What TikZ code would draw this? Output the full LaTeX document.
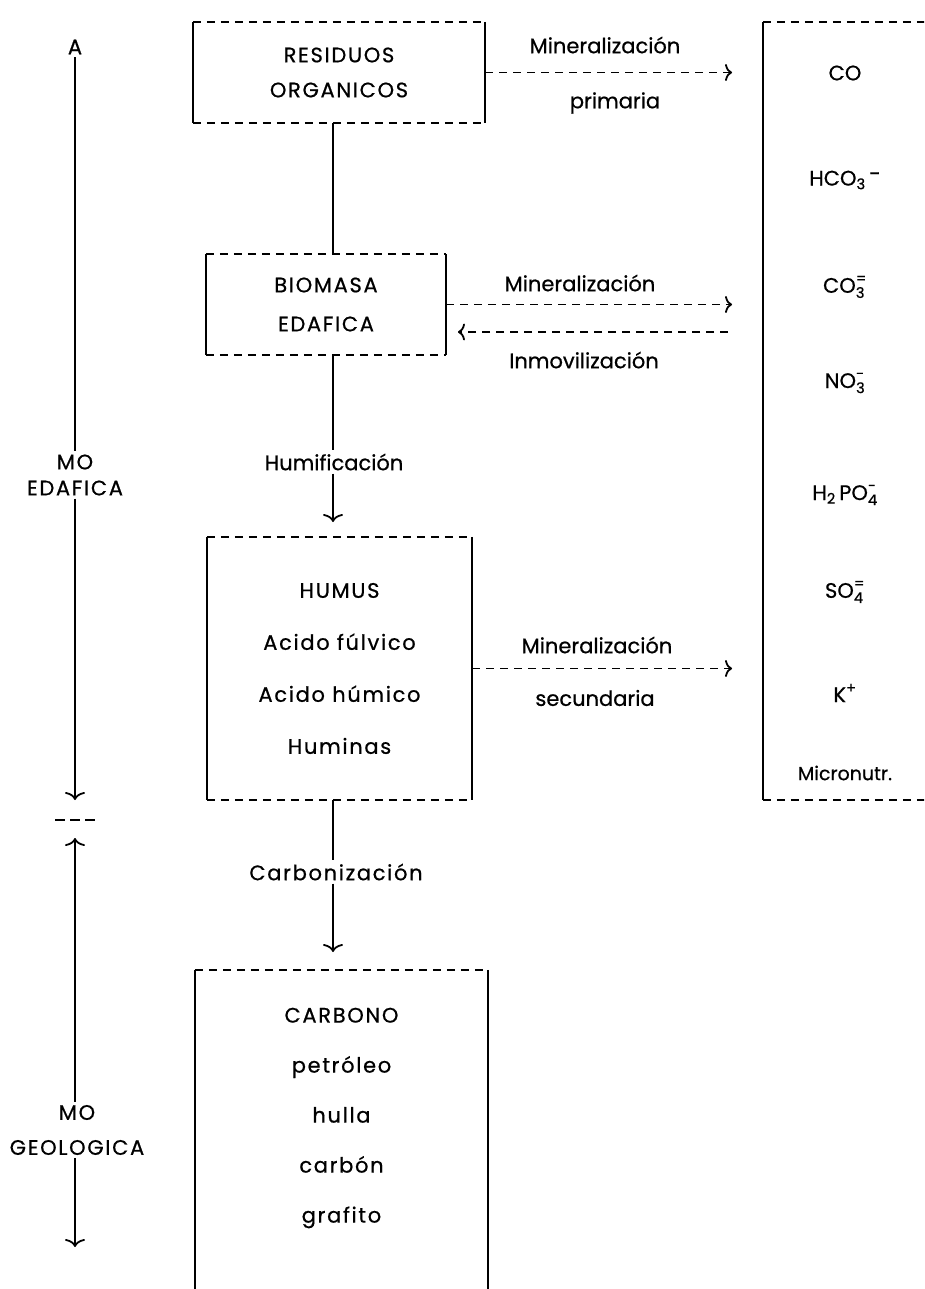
\documentclass[tikz,border=0pt]{standalone}
\usepackage{amsmath}
\usepackage{fontspec}
\setmainfont{Poppins}[FakeBold=0.6]
\newfontfamily\espaciada{Poppins}[FakeBold=0.6,LetterSpace=8]
\usetikzlibrary{arrows.meta,positioning,calc}

% bordes: lados verticales continuos, arriba y abajo discontinuos
\newcommand{\bordes}[1]{%
  \draw[trazo] (#1.north west) -- (#1.north east);
  \draw[trazo] (#1.south west) -- (#1.south east);
  \draw[linea] (#1.north west) -- (#1.south west);
  \draw[linea] (#1.north east) -- (#1.south east);}

\begin{document}
\begin{tikzpicture}[x=1pt,y=-1pt,
  every node/.style={font=\fontsize{21}{24}\selectfont,inner sep=3pt},
  ancha/.style={font=\espaciada\fontsize{21}{#1}\selectfont},
  caja/.style={inner sep=0pt,align=center},
  linea/.style={line width=1.8pt},
  trazo/.style={line width=1.8pt,dash pattern=on 8pt off 6pt},
  flecha/.style={line width=1.8pt,-{Computer Modern Rightarrow[length=8pt,width=20pt]}},
  flechad/.style={trazo,-{Computer Modern Rightarrow[length=7pt,width=17pt]}}]
  \useasboundingbox (0,0) rectangle (924,1289);
  \clip (0,0) rectangle (924,1289);

  % cajas
  \node[caja,ancha=35,minimum width=292pt,minimum height=101pt] (residuos) at (339,72.5) {RESIDUOS\\ORGANICOS};
  \node[caja,ancha=39,minimum width=240pt,minimum height=101pt] (biomasa) at (326,304.5) {BIOMASA\\EDAFICA};
  \node[caja,ancha=52,minimum width=265pt,minimum height=263pt] (humus) at (339.5,668.5) {HUMUS\\Acido fúlvico\\Acido húmico\\Huminas};
  \node[caja,ancha=50,minimum width=293pt,minimum height=296pt] (carbono) at (341.5,1118) {CARBONO\\petróleo\\hulla\\carbón\\grafito};
  \node[caja,minimum width=165pt,minimum height=778pt] (iones) at (845.5,411) {};
  \bordes{residuos}
  \bordes{biomasa}
  \bordes{humus}
  \bordes{iones}
  \draw[trazo] (carbono.north west) -- (carbono.north east);
  \draw[linea] (carbono.north west) -- ++(0,340);
  \draw[linea] (carbono.north east) -- ++(0,340);

  % iones
  \node (co) at (845,73) {CO};
  \node (hco) at (845,180) {$\text{HCO}_{\text{3}}$\,\raisebox{0.4ex}{-}};
  \node (cot) at (845,287) {$\text{CO}_{\text{3}}^{\text{=}}$};
  \node (not) at (845,383) {$\text{NO}_{\text{3}}^{\text{-}}$};
  \node (hpo) at (845,495) {$\text{H}_{\text{2}}\,\text{PO}_{\text{4}}^{\text{-}}$};
  \node (so) at (845,592) {$\text{SO}_{\text{4}}^{\text{=}}$};
  \node (k) at (845,693) {$\text{K}^{\text{+}}$};
  \node[font=\fontsize{19}{22}\selectfont] (micro) at (845,773) {Micronutr.};

  % eje central
  \coordinate (eje) at (333,0);
  \draw[linea] (residuos.south -| eje) -- (biomasa.north -| eje);
  \node (humif) at (334,462) {Humificación};
  \coordinate (puntaH) at (333,522);
  \draw[linea] (biomasa.south -| eje) -- (humif.north -| eje);
  \draw[flecha] (humif.south -| eje) -- (puntaH);
  \node[ancha=24] (carbz) at (336,872) {Carbonización};
  \coordinate (puntaC) at (333,952);
  \draw[linea] (humus.south -| eje) -- (carbz.north -| eje);
  \draw[flecha] (carbz.south -| eje) -- (puntaC);

  % mineralizacion
  \coordinate (m1) at (732,72.5);
  \draw[flechad] (residuos.east) -- (m1);
  \node (min1) at (605,45) {Mineralización};
  \node (prim) at (615,103) {primaria};
  \coordinate (m2) at (732,304.5);
  \draw[flechad] (biomasa.east) -- (m2);
  \node (min2) at (580,283) {Mineralización};
  \coordinate (i1) at (728,332);
  \coordinate (i2) at (458,332);
  \draw[flechad] (i1) -- (i2);
  \node (inmov) at (584,360) {Inmovilización};
  \coordinate (m3) at (732,668.5);
  \draw[flechad] (humus.east) -- (m3);
  \node (min3) at (597,645) {Mineralización};
  \node (secu) at (595,698) {secundaria};

  % eje izquierdo
  \node (ndA) at (75,47) {A};
  \node[align=center,ancha=26] (moed) at (75,475) {MO\\EDAFICA};
  \coordinate (finA) at (75,800);
  \draw[linea] (ndA) -- (moed);
  \draw[flecha] (moed) -- (finA);
  \coordinate (corte) at (75,820);
  \draw[line width=1.8pt,dash pattern=on 10pt off 5pt] ([xshift=-20pt]corte) -- ([xshift=20pt]corte);
  \node[align=center,ancha=35] (moge) at (77,1130) {MO\\GEOLOGICA};
  \coordinate (iniG) at (75,838);
  \coordinate (finG) at (75,1247);
  \draw[flecha] (moge.north -| finG) -- (iniG);
  \draw[flecha] (moge.south -| finG) -- (finG);
\end{tikzpicture}
\end{document}
